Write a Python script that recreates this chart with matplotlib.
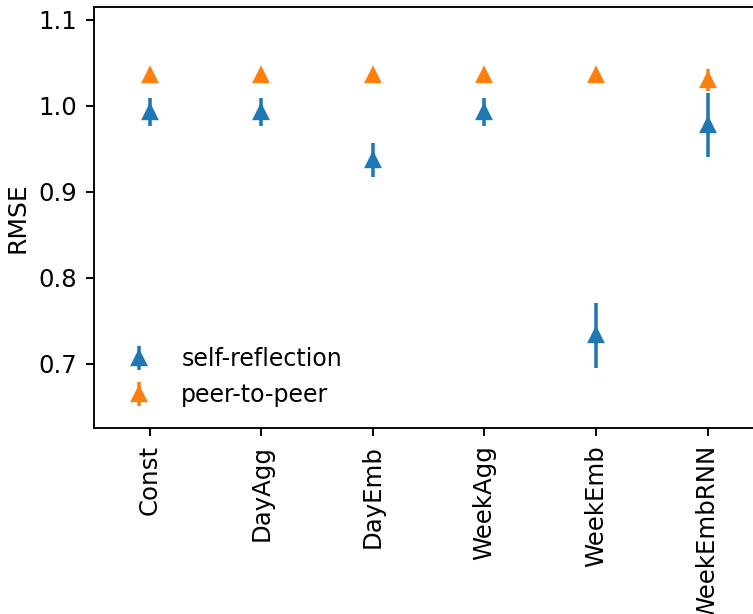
import numpy as np
from matplotlib import pyplot as plt

models = ["Const", "DayAgg", "DayEmb", "WeekAgg", "WeekEmb", "WeekEmbRNN"]
self_rmse = [0.993, 0.993, 0.937, 0.993, 0.733, 0.978]
self_err = [0.016, 0.016, 0.020, 0.016, 0.038, 0.037]
peer_rmse = [1.036, 1.036, 1.036, 1.036, 1.036, 1.030]
peer_err = [0.002, 0.002, 0.002, 0.002, 0.002, 0.013]

fig = plt.figure(figsize=(753 / 170, 614 / 170), dpi=170)
ax = fig.add_axes([0.1248, 0.3024, 0.889, 0.6854])

x = np.arange(len(models))
ax.errorbar(x, self_rmse, yerr=self_err, fmt='^', label='self-reflection')
ax.errorbar(x, peer_rmse, yerr=peer_err, fmt='^', label='peer-to-peer')

ax.set_xticks(x)
ax.set_xticklabels(models, rotation=90)
ax.set_xlim(-0.5, 5.5)
ax.set_ylim(0.625, 1.1145)
ax.set_yticks([0.7, 0.8, 0.9, 1.0, 1.1])
ax.tick_params(labelsize=10.3)
ax.set_ylabel('RMSE', fontsize=10.6)
ax.legend(loc='lower left', frameon=False)

plt.savefig('out.png', dpi=170)
